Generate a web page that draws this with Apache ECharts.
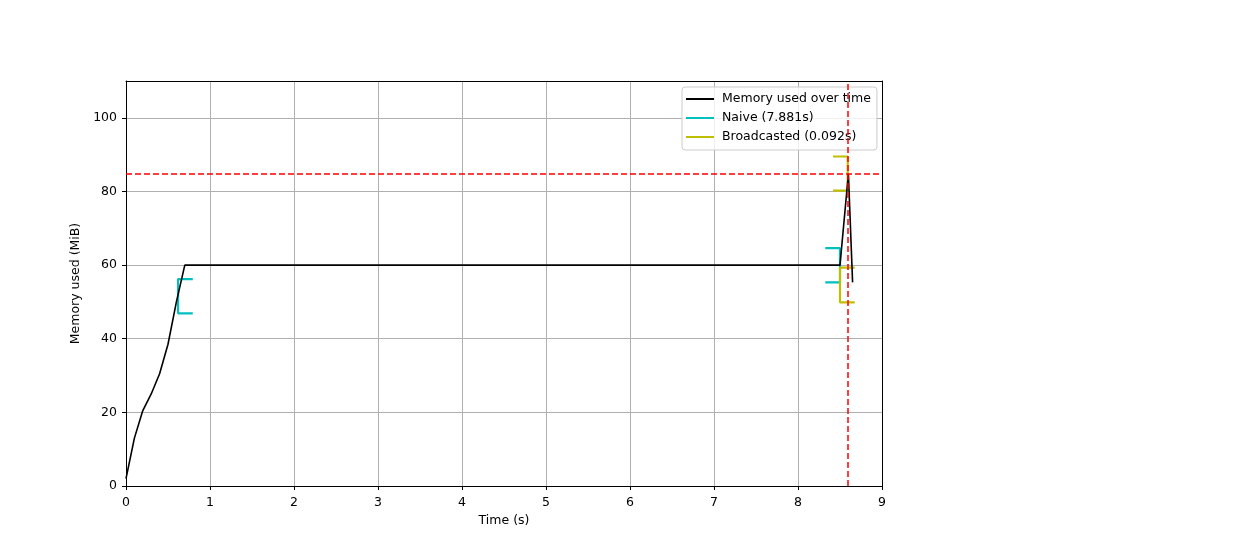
<!DOCTYPE html>
<html>
<head>
<meta charset="utf-8">
<script src="https://cdn.jsdelivr.net/npm/echarts@6/dist/echarts.min.js"></script>
<style>
  html, body { margin: 0; padding: 0; background: #fff; }
  #chart { width: 1260px; height: 540px; }
</style>
</head>
<body>
<div id="chart"></div>
<script>
// memory samples (time s, MiB)
var memTime = [0, 0.1, 0.2, 0.3, 0.4, 0.5, 0.6, 0.7, 8.5, 8.6, 8.65];
var memUsed = [2.0, 13.0, 20.5, 25.0, 30.5, 38.5, 50.0, 60.0, 60.0, 84.8, 55.3];

// function brackets: start/end time, memory range at start and at end
var naiveStart = 0.62, naiveEnd = 8.50;
var naiveStartMem = [46.9, 56.2], naiveEndMem = [55.3, 64.6];
var bcStart = 8.50, bcEnd = 8.592;
var bcStartMem = [49.9, 59.3], bcEndMem = [80.2, 89.5];

var peakTime = 8.59, peakMem = 84.8;
var xTicks = [0, 1, 2, 3, 4, 5, 6, 7, 8, 9];
var yTicks = [0, 20, 40, 60, 80, 100];

var font = 'DejaVu Sans';
var fs = 12.5;
var bw = 0.175; // bracket tick width in seconds

function openBracket(t, m) {
  return [[t + bw, m[0]], [t, m[0]], [t, m[1]], [t + bw, m[1]]];
}
function closeBracket(t, m) {
  return [[t - bw, m[0]], [t, m[0]], [t, m[1]], [t - bw, m[1]]];
}

var memData = memTime.map(function (t, i) { return [t, memUsed[i]]; });

function bracketSeries(name, color, data) {
  return {
    name: name, type: 'line', data: data, symbol: 'none',
    lineStyle: { color: color, width: 2.2 }, itemStyle: { color: color },
    animation: false, z: 3
  };
}

function frameAxis(pos, isX) {
  var a = {
    type: 'value', position: pos, min: isX ? 0 : 0, max: isX ? 9 : 110,
    axisLine: { show: true, onZero: false, lineStyle: { color: '#000', width: 1 } },
    axisTick: { show: false }, axisLabel: { show: false }, splitLine: { show: false }
  };
  return a;
}

var chart = echarts.init(document.getElementById('chart'));
chart.setOption({
  animation: false,
  textStyle: { fontFamily: font },
  grid: { left: 126, right: 378, top: 81, bottom: 54 },
  legend: {
    orient: 'vertical', left: 682, top: 87,
    data: ['Memory used over time', 'Naive (7.881s)', 'Broadcasted (0.092s)'],
    icon: 'rect', itemWidth: 28, itemHeight: 2, itemGap: 5, itemStyle: { borderWidth: 0 },
    padding: [5, 6, 6, 4],
    backgroundColor: 'rgba(255,255,255,0.8)', borderColor: '#ccc', borderWidth: 1, borderRadius: 3,
    textStyle: { fontFamily: font, fontSize: fs, color: '#000', lineHeight: 14, padding: [0, 0, 0, 3] }
  },
  xAxis: [{
    type: 'value', min: 0, max: 9, interval: 1,
    name: 'Time (s)', nameLocation: 'middle', nameGap: 28,
    nameTextStyle: { fontFamily: font, fontSize: fs, color: '#000' },
    axisLine: { show: true, onZero: false, lineStyle: { color: '#000' } },
    axisTick: { show: true, length: 4, lineStyle: { color: '#000' } },
    axisLabel: { fontFamily: font, fontSize: fs, color: '#000', margin: 10,
      formatter: function (v) { return xTicks.indexOf(v) >= 0 ? String(v) : ''; } },
    splitLine: { show: true, lineStyle: { color: '#b0b0b0', width: 1 } }
  }, frameAxis('top', true)],
  yAxis: [{
    type: 'value', min: 0, max: 110, interval: 20,
    name: 'Memory used (MiB)', nameLocation: 'middle', nameGap: 41,
    nameTextStyle: { fontFamily: font, fontSize: fs, color: '#000' },
    axisLine: { show: true, onZero: false, lineStyle: { color: '#000' } },
    axisTick: { show: true, length: 4, lineStyle: { color: '#000' } },
    axisLabel: { fontFamily: font, fontSize: fs, color: '#000', margin: 9, showMaxLabel: false,
      formatter: function (v) { return yTicks.indexOf(v) >= 0 ? String(v) : ''; } },
    splitLine: { show: true, lineStyle: { color: '#b0b0b0', width: 1 } }
  }, frameAxis('right', false)],
  series: [
    {
      name: 'Memory used over time', type: 'line', data: memData, symbol: 'none',
      lineStyle: { color: '#000', width: 1.6 }, itemStyle: { color: '#000' }, z: 4,
      markLine: {
        silent: true, symbol: 'none', label: { show: false },
        lineStyle: { color: '#ff0000', type: [6, 3], width: 1.5 },
        data: [{ xAxis: peakTime }, { yAxis: peakMem }]
      }
    },
    bracketSeries('Naive (7.881s)', '#00bfbf', openBracket(naiveStart, naiveStartMem)),
    bracketSeries('Naive (7.881s)', '#00bfbf', closeBracket(naiveEnd, naiveEndMem)),
    bracketSeries('Broadcasted (0.092s)', '#bfbf00', openBracket(bcStart, bcStartMem)),
    bracketSeries('Broadcasted (0.092s)', '#bfbf00', closeBracket(bcEnd, bcEndMem))
  ]
});
</script>
</body>
</html>
